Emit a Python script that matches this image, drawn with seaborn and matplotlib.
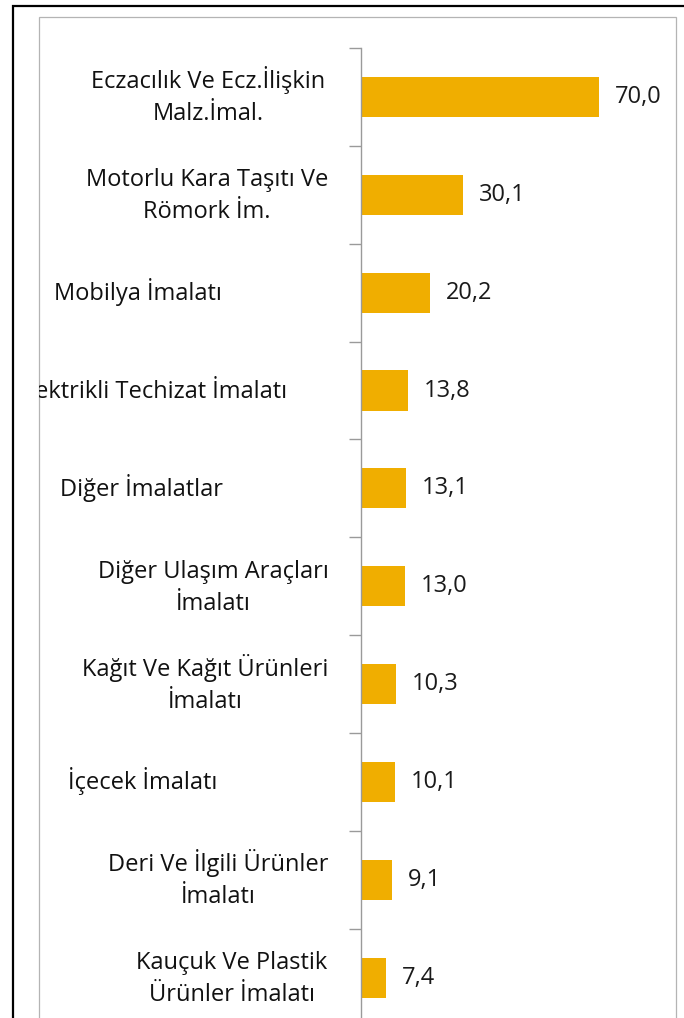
import matplotlib
matplotlib.use("Agg")
import matplotlib.pyplot as plt
import matplotlib.transforms as mtransforms
from matplotlib.patches import Rectangle
import seaborn as sns
import pandas as pd

# ---- data ----
categories = [
    "Eczacılık Ve Ecz.İlişkin\nMalz.İmal.",
    "Motorlu Kara Taşıtı Ve\nRömork İm.",
    "Mobilya İmalatı",
    "Elektrikli Techizat İmalatı",
    "Diğer İmalatlar",
    "Diğer Ulaşım Araçları\nİmalatı",
    "Kağıt Ve Kağıt Ürünleri\nİmalatı",
    "İçecek İmalatı",
    "Deri Ve İlgili Ürünler\nİmalatı",
    "Kauçuk Ve Plastik\nÜrünler İmalatı",
]
values = [70.0, 30.1, 20.2, 13.8, 13.1, 13.0, 10.3, 10.1, 9.1, 7.4]
value_labels = [f"{v:.1f}".replace(".", ",") for v in values]

# ---- layout / style (pixels) ----
W, H = 684, 1018
label_anchor = [(208, "center"), (207, "center"), (138, "center"), (287, "right"),
                (141, "center"), (213, "center"), (205, "center"), (143, "center"),
                (218, "center"), (232, "center")]
BAR_COLOR = "#F0AE00"
AXIS_GRAY = "#9A9A9A"
LABEL_FONT = ["Open Sans", "DejaVu Sans"]

sns.set_theme(style="white")
plt.rcParams["font.family"] = LABEL_FONT

fig = plt.figure(figsize=(W / 100, H / 100), dpi=100)
fig.patch.set_facecolor("white")


def fx(px):
    return px / W


def fy(py):
    return 1 - py / H


step = 97.86
ax_left, ax_top, ax_right = 361, 48, 676
ax_bottom = ax_top + step * len(categories)
ax = fig.add_axes([fx(ax_left), fy(ax_bottom), fx(ax_right) - fx(ax_left),
                   (ax_bottom - ax_top) / H])

df = pd.DataFrame({"cat": categories, "val": values})
sns.barplot(data=df, x="val", y="cat", orient="h", color=BAR_COLOR,
            saturation=1, width=0.41, ax=ax, linewidth=0)

px_per_unit = (599 - 361) / 70.0
ax.set_xlim(0, (ax_right - ax_left) / px_per_unit)
ax.set_ylim(len(categories) - 0.5, -0.5)
ax.set_facecolor("none")

ax.set_yticks([i - 0.5 for i in range(len(categories) + 1)])
ax.set_yticklabels([])
ax.tick_params(axis="y", left=True, length=9, width=1, color=AXIS_GRAY, direction="out")
ax.xaxis.set_visible(False)
ax.set_xlabel("")
ax.set_ylabel("")
for s in ["top", "right", "bottom"]:
    ax.spines[s].set_visible(False)
ax.spines["left"].set_color(AXIS_GRAY)
ax.spines["left"].set_linewidth(1)

ax.bar_label(ax.containers[0], labels=value_labels, padding=11.5,
             fontsize=17, color="#1a1a1a")

# ---- category labels (drawn as text, clipped by chart frame) ----
clip_bbox = mtransforms.TransformedBbox(
    mtransforms.Bbox.from_extents(fx(39), 0, fx(676), fy(17)), fig.transFigure)
blend = mtransforms.blended_transform_factory(fig.transFigure, ax.transData)
line_step = 32
for i, (cat, (xpx, ha)) in enumerate(zip(categories, label_anchor)):
    lines = cat.split("\n")
    n = len(lines)
    for k, line in enumerate(lines):
        off = 7.5 + (k - (n - 1) / 2) * line_step
        tr = mtransforms.offset_copy(blend, fig=fig, x=0, y=-off, units="dots")
        t = fig.text(fx(xpx), i, line, transform=tr, ha=ha, va="baseline",
                     fontsize=17, color="#111111")
        t.set_clip_box(clip_bbox)
        t.set_clip_on(True)

# ---- frames ----
outer = Rectangle((fx(13), fy(H + 20)), fx(695) - fx(13), fy(6) - fy(H + 20),
                  transform=fig.transFigure, fill=False, ec="black", lw=1.6)
inner = Rectangle((fx(39), fy(H + 20)), fx(676) - fx(39), fy(17) - fy(H + 20),
                  transform=fig.transFigure, fill=False, ec="#B4B4B4", lw=0.9)
fig.patches.extend([outer, inner])

fig.savefig("out.png", dpi=100)
